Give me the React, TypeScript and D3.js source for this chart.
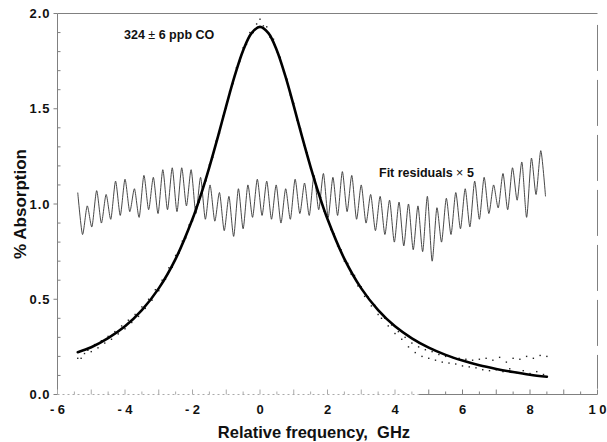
import React from "react";
import * as d3 from "d3";

// ---------- data ----------
const xTickValues = [-6, -4, -2, 0, 2, 4, 6, 8, 10];
const xTickLabels = ["- 6", "- 4", "- 2", "0", "2", "4", "6", "8", "1 0"];
const yTickValues = [0, 0.5, 1, 1.5, 2];
const yTickLabels = ["0.0", "0.5", "1.0", "1.5", "2.0"];

// fitted line profile (% absorption vs GHz)
const fitFreq = [-5.4, -5, -4.5, -4, -3.5, -3, -2.5, -2, -1.75, -1.5, -1.25, -1, -0.75, -0.5, -0.25, 0,
  0.25, 0.5, 0.75, 1, 1.25, 1.5, 1.75, 2, 2.5, 3, 3.5, 4, 4.5, 5, 5.5, 6, 6.5, 7, 7.5, 8, 8.5];
const fitAbs = [0.222, 0.248, 0.296, 0.358, 0.443, 0.557, 0.712, 0.921, 1.049, 1.194, 1.351, 1.515, 1.672, 1.806, 1.897, 1.93,
  1.897, 1.806, 1.672, 1.515, 1.351, 1.194, 1.049, 0.921, 0.712, 0.557, 0.443, 0.358, 0.295, 0.246, 0.208, 0.178, 0.153, 0.134, 0.118, 0.104, 0.093];

// measured absorption points
const measFreq = [-5.4, -5.3, -5.2, -5.1, -5.0, -4.9, -4.8, -4.7, -4.6, -4.5, -4.4, -4.3, -4.2, -4.1, -4.0, -3.9, -3.8, -3.7, -3.6, -3.5,
  -3.4, -3.3, -3.2, -3.1, -3.0, -2.9, -2.8, -2.7, -2.6, -2.5, -2.4, -2.3, -2.2, -2.1, -2.0, -1.9, -1.8, -1.7, -1.6, -1.5,
  -1.4, -1.3, -1.2, -1.1, -1.0, -0.9, -0.8, -0.7, -0.6, -0.5, -0.4, -0.3, -0.2, -0.1, 0.0, 0.1, 0.2, 0.3, 0.4, 0.5,
  0.6, 0.7, 0.8, 0.9, 1.0, 1.1, 1.2, 1.3, 1.4, 1.5, 1.6, 1.7, 1.8, 1.9, 2.0, 2.1, 2.2, 2.3, 2.4, 2.5,
  2.6, 2.7, 2.8, 2.9, 3.0, 3.1, 3.2, 3.3, 3.4, 3.5, 3.6, 3.7, 3.8, 3.9, 4.0, 4.1, 4.2, 4.3, 4.4, 4.5,
  4.6, 4.7, 4.8, 4.9, 5.0, 5.1, 5.2, 5.3, 5.4, 5.5, 5.6, 5.7, 5.8, 5.9, 6.0, 6.1, 6.2, 6.3, 6.4, 6.5,
  6.6, 6.7, 6.8, 6.9, 7.0, 7.1, 7.2, 7.3, 7.4, 7.5, 7.6, 7.7, 7.8, 7.9, 8.0, 8.1, 8.2, 8.3, 8.4, 8.5];
const measAbs = [0.19, 0.19, 0.215, 0.232, 0.225, 0.262, 0.245, 0.282, 0.27, 0.305, 0.29, 0.33, 0.318, 0.36, 0.345, 0.39, 0.378, 0.42, 0.41, 0.46,
  0.452, 0.5, 0.495, 0.55, 0.545, 0.6, 0.605, 0.665, 0.668, 0.73, 0.742, 0.805, 0.822, 0.89, 0.912, 0.985, 1.01, 1.09, 1.122, 1.205,
  1.245, 1.33, 1.372, 1.46, 1.505, 1.59, 1.632, 1.715, 1.748, 1.82, 1.838, 1.9, 1.9, 1.945, 1.97, 1.935, 1.93, 1.875, 1.865, 1.8,
  1.77, 1.695, 1.655, 1.572, 1.528, 1.44, 1.395, 1.31, 1.268, 1.186, 1.145, 1.07, 1.035, 0.962, 0.932, 0.866, 0.842, 0.78, 0.76, 0.7,
  0.688, 0.632, 0.625, 0.57, 0.565, 0.515, 0.512, 0.465, 0.468, 0.42, 0.4, 0.4, 0.36, 0.365, 0.32, 0.33, 0.29, 0.3, 0.25, 0.27,
  0.22, 0.25, 0.2, 0.235, 0.19, 0.225, 0.18, 0.21, 0.17, 0.2, 0.165, 0.195, 0.16, 0.19, 0.15, 0.185, 0.145, 0.18, 0.14, 0.185,
  0.13, 0.19, 0.125, 0.18, 0.13, 0.195, 0.12, 0.17, 0.135, 0.19, 0.115, 0.185, 0.125, 0.2, 0.11, 0.19, 0.12, 0.205, 0.105, 0.2];

// fit residuals x 5 (offset to 1.0)
const residFreq = [-5.40, -5.26, -5.12, -4.98, -4.84, -4.70, -4.56, -4.42, -4.28, -4.14,
  -4.00, -3.86, -3.72, -3.58, -3.44, -3.30, -3.16, -3.02, -2.88, -2.74,
  -2.60, -2.46, -2.32, -2.18, -2.04, -1.90, -1.76, -1.62, -1.48, -1.34,
  -1.20, -1.06, -0.92, -0.78, -0.64, -0.50, -0.36, -0.22, -0.08, 0.06,
  0.20, 0.34, 0.48, 0.62, 0.76, 0.90, 1.04, 1.18, 1.32, 1.46,
  1.60, 1.74, 1.88, 2.02, 2.16, 2.30, 2.44, 2.58, 2.72, 2.86,
  3.00, 3.14, 3.28, 3.42, 3.56, 3.70, 3.84, 3.98, 4.12, 4.26,
  4.40, 4.54, 4.68, 4.82, 4.96, 5.10, 5.24, 5.38, 5.52, 5.66,
  5.80, 5.94, 6.08, 6.22, 6.36, 6.50, 6.64, 6.78, 6.92, 7.06,
  7.20, 7.34, 7.48, 7.62, 7.76, 7.90, 8.04, 8.18, 8.32, 8.46];
const residVal = [1.06, 0.84, 0.99, 0.88, 1.07, 0.90, 1.05, 0.92, 1.12, 0.94,
  1.13, 0.96, 1.08, 0.93, 1.15, 0.97, 1.14, 0.95, 1.18, 0.97,
  1.19, 0.96, 1.19, 0.99, 1.18, 0.95, 1.14, 0.92, 1.10, 0.91,
  1.06, 0.86, 1.04, 0.83, 1.08, 0.87, 1.10, 0.93, 1.13, 0.94,
  1.12, 0.92, 1.10, 0.90, 1.08, 0.92, 1.13, 0.95, 1.11, 0.94,
  1.15, 0.97, 1.16, 0.93, 1.14, 0.94, 1.17, 0.96, 1.15, 0.92,
  1.10, 0.90, 1.05, 0.86, 1.04, 0.84, 1.02, 0.80, 1.01, 0.78,
  1.00, 0.76, 0.99, 0.75, 1.04, 0.70, 0.98, 0.80, 1.03, 0.84,
  1.06, 0.87, 1.08, 0.88, 1.12, 0.92, 1.14, 0.95, 1.10, 0.98,
  1.16, 0.97, 1.19, 1.02, 1.22, 0.93, 1.24, 1.05, 1.28, 1.04];

// ---------- chart ----------
const W = 607;
const H = 442;
const FONT = "'Liberation Sans', Arial, Helvetica, sans-serif";

export default function App() {
  const x = d3.scaleLinear().domain([-6, 10]).range([57.5, 597.5]);
  const y = d3.scaleLinear().domain([0, 2]).range([394.5, 13.5]);

  const fitLine = d3
    .line<number>()
    .x((_, i) => x(fitFreq[i]))
    .y((d) => y(d))
    .curve(d3.curveCatmullRom)(fitAbs) as string;

  const residLine = d3
    .line<number>()
    .x((_, i) => x(residFreq[i]))
    .y((d) => y(d))
    .curve(d3.curveCardinal.tension(0.3))(residVal) as string;

  const yMinor = y.ticks(20);
  const xMinor = x.ticks(32);
  const axisGray = "#808080";

  return (
    <svg
      width={W}
      height={H}
      style={{ position: "absolute", left: 0, top: 0, background: "#fff" }}
      fontFamily={FONT}
    >
      <rect x={0} y={0} width={W} height={H} fill="#fff" />

      {/* frame */}
      <line x1={x(-6)} x2={x(-6)} y1={y(2)} y2={y(0)} stroke={axisGray} strokeWidth={1} />
      <line x1={x(-6)} x2={x(10)} y1={y(2)} y2={y(2)} stroke={axisGray} strokeWidth={1} />
      <line x1={x(10)} x2={x(10)} y1={y(1.94)} y2={y(0.03)} stroke={axisGray} strokeWidth={1} strokeDasharray="46 9" />
      <line x1={x(-6)} x2={x(4.7)} y1={y(0)} y2={y(0)} stroke="#aaa" strokeWidth={1} strokeDasharray="2 3" />
      <line x1={x(4.7)} x2={x(10)} y1={y(0)} y2={y(0)} stroke={axisGray} strokeWidth={1} />

      {/* y ticks */}
      {yMinor.map((t) => {
        const major = Math.abs(t * 2 - Math.round(t * 2)) < 1e-6;
        return (
          <line
            key={"ym" + t}
            x1={major ? x(-6) - 4 : x(-6)}
            x2={major ? x(-6) : x(-6) + 3}
            y1={y(t)}
            y2={y(t)}
            stroke={axisGray}
            strokeWidth={1}
          />
        );
      })}
      {yTickValues.map((t, i) => (
        <text
          key={"yl" + t}
          x={x(-6) - 7}
          y={y(t)}
          dy="0.36em"
          textAnchor="end"
          fontSize={13}
          fontWeight="bold"
          letterSpacing={1}
          fill="#111"
        >
          {yTickLabels[i]}
        </text>
      ))}

      {/* x ticks */}
      {xMinor.map((t) => {
        const major = Math.abs(t - Math.round(t)) < 1e-6;
        return (
          <line
            key={"xm" + t}
            x1={x(t)}
            x2={x(t)}
            y1={y(0)}
            y2={y(0) - (major ? 5 : 3)}
            stroke={t < 4.7 ? "#aaa" : axisGray}
            strokeWidth={1}
          />
        );
      })}
      {xTickValues.map((t, i) => (
        <text
          key={"xl" + t}
          x={x(t)}
          y={414}
          textAnchor="middle"
          fontSize={13}
          fontWeight="bold"
          fill="#111"
        >
          {xTickLabels[i]}
        </text>
      ))}

      {/* axis titles */}
      <text x={314} y={438} textAnchor="middle" fontSize={16.5} fontWeight="bold" fill="#111" style={{ whiteSpace: "pre" }}>
        {"Relative frequency,  GHz"}
      </text>
      <text
        transform={`translate(26, ${y(1)}) rotate(-90)`}
        textAnchor="middle"
        fontSize={17}
        fontWeight="bold"
        fill="#111"
      >
        % Absorption
      </text>

      {/* residuals */}
      <path d={residLine} fill="none" stroke="#333" strokeWidth={0.9} />

      {/* measured points */}
      {measAbs.map((v, i) => (
        <rect
          key={"m" + i}
          x={x(measFreq[i]) - 0.7}
          y={y(v) - 0.7}
          width={1.4}
          height={1.4}
          fill="#222"
        />
      ))}

      {/* fit */}
      <path d={fitLine} fill="none" stroke="#000" strokeWidth={2.6} strokeLinecap="round" />

      {/* annotations */}
      <text x={124} y={39} fontSize={12.5} fontWeight="bold" fill="#111">
        324 <tspan fontWeight="normal">±</tspan> 6 ppb CO
      </text>
      <text x={379} y={177} fontSize={12.5} fontWeight="bold" fill="#111">
        Fit residuals <tspan fontWeight="normal">×</tspan> 5
      </text>
    </svg>
  );
}
